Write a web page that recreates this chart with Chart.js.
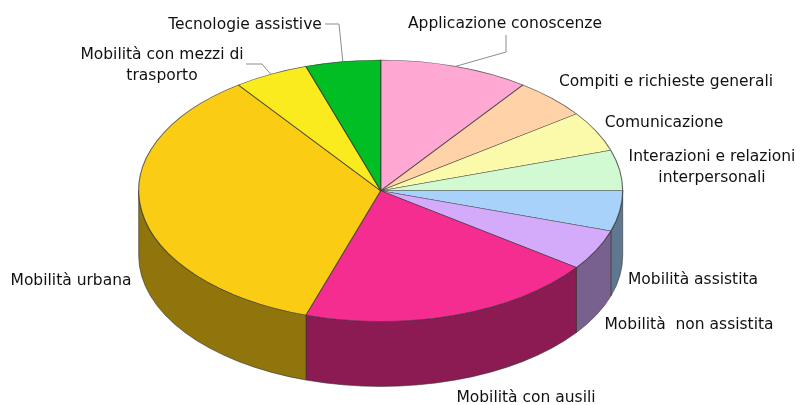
<!DOCTYPE html>
<html>
<head>
<meta charset="utf-8">
<script src="https://cdn.jsdelivr.net/npm/chart.js@4.4.1/dist/chart.umd.min.js"></script>
<style>
  html, body { margin: 0; padding: 0; background: #fff; overflow: hidden; }
  canvas { display: block; }
</style>
</head>
<body>
<canvas id="chartTorta" width="800" height="405"></canvas>
<script>
const categories = [
  'Applicazione conoscenze',
  'Compiti e richieste generali',
  'Comunicazione',
  'Interazioni e relazioni interpersonali',
  'Mobilità assistita',
  'Mobilità  non assistita',
  'Mobilità con ausili',
  'Mobilità urbana',
  'Mobilità con mezzi di trasporto',
  'Tecnologie assistive',
];
const values = [10, 5, 5, 5, 5, 5, 20, 35, 5, 5];
const colors = ['#ffa8d4', '#ffd2a8', '#fafaaa', '#d2fad2', '#a8d2fa', '#d4aafa', '#f52d91', '#facd14', '#faeb1e', '#00be23'];

// 3D look: ellipse of the top face and depth of the side wall
const CX = 380.7;
const CY = 190.7;
const RX = 242;
const RY = 130.7;
const DEPTH = 65;
const SHADE = 0.57;

// label placement (centre x, centre y of first line), leader = [x1, y1, x2, y2] elbow toward slice
const labelLayout = [
  { lines: ['Applicazione conoscenze'], x: 505, y: 24, leader: [506, 35, 506, 52] },
  { lines: ['Compiti e richieste generali'], x: 666, y: 82 },
  { lines: ['Comunicazione'], x: 664, y: 123 },
  { lines: ['Interazioni e relazioni', 'interpersonali'], x: 712, y: 157 },
  { lines: ['Mobilità assistita'], x: 693, y: 280 },
  { lines: ['Mobilità  non assistita'], x: 689, y: 325 },
  { lines: ['Mobilità con ausili'], x: 526, y: 398 },
  { lines: ['Mobilità urbana'], x: 71, y: 281 },
  { lines: ['Mobilità con mezzi di', 'trasporto'], x: 162, y: 55, leader: [246, 64, 262, 64] },
  { lines: ['Tecnologie assistive'], x: 245, y: 25, leader: [325, 24, 339, 24] },
];

function shade(hex, k) {
  const n = parseInt(hex.slice(1), 16);
  const r = Math.round(((n >> 16) & 255) * k);
  const g = Math.round(((n >> 8) & 255) * k);
  const b = Math.round((n & 255) * k);
  return `rgb(${r},${g},${b})`;
}

const pie3d = {
  id: 'pie3d',
  beforeDatasetsDraw(chart) {
    const { ctx } = chart;
    const meta = chart.getDatasetMeta(0);
    ctx.save();
    ctx.lineWidth = 0.8;
    ctx.strokeStyle = 'rgba(50,50,50,0.75)';
    meta.data.forEach((arc, i) => {
      const { startAngle, endAngle } = arc.getProps(['startAngle', 'endAngle'], true);
      const a = Math.max(startAngle, 0);
      const b = Math.min(endAngle, Math.PI);
      if (a >= b) return;
      ctx.beginPath();
      ctx.ellipse(CX, CY, RX, RY, 0, a, b, false);
      ctx.lineTo(CX + RX * Math.cos(b), CY + RY * Math.sin(b) + DEPTH);
      ctx.ellipse(CX, CY + DEPTH, RX, RY, 0, b, a, true);
      ctx.closePath();
      ctx.fillStyle = shade(colors[i], SHADE);
      ctx.fill();
      ctx.stroke();
    });
    ctx.restore();
  },
  beforeDatasetDraw(chart) {
    const { ctx } = chart;
    const arc = chart.getDatasetMeta(0).data[0];
    const r = arc.outerRadius;
    ctx.save();
    ctx.translate(CX, CY);
    ctx.scale(RX / r, RY / r);
    ctx.translate(-arc.x, -arc.y);
  },
  afterDatasetDraw(chart) {
    chart.ctx.restore();
  },
  afterDraw(chart) {
    const { ctx } = chart;
    const meta = chart.getDatasetMeta(0);
    ctx.save();
    ctx.font = '15.5px "DejaVu Sans", sans-serif';
    ctx.fillStyle = '#111';
    ctx.textAlign = 'center';
    ctx.textBaseline = 'middle';
    labelLayout.forEach((lab, i) => {
      lab.lines.forEach((line, j) => ctx.fillText(line, lab.x, lab.y + j * 21));
      if (lab.leader) {
        const { startAngle, endAngle } = meta.data[i].getProps(['startAngle', 'endAngle'], true);
        const mid = (startAngle + endAngle) / 2;
        const [x1, y1, x2, y2] = lab.leader;
        ctx.beginPath();
        ctx.moveTo(x1, y1);
        ctx.lineTo(x2, y2);
        ctx.lineTo(CX + RX * Math.cos(mid), CY + RY * Math.sin(mid));
        ctx.strokeStyle = '#8c8c8c';
        ctx.lineWidth = 1;
        ctx.stroke();
      }
    });
    ctx.restore();
  },
};

new Chart(document.getElementById('chartTorta'), {
  type: 'pie',
  data: {
    labels: categories,
    datasets: [{
      data: values,
      backgroundColor: colors,
      borderColor: 'rgba(50,50,50,0.75)',
      borderWidth: 0.6,
    }],
  },
  options: {
    responsive: false,
    animation: false,
    events: [],
    layout: { padding: { top: 60, bottom: 84, left: 0, right: 0 } },
    plugins: { legend: { display: false }, tooltip: { enabled: false } },
  },
  plugins: [pie3d],
});
</script>
</body>
</html>
